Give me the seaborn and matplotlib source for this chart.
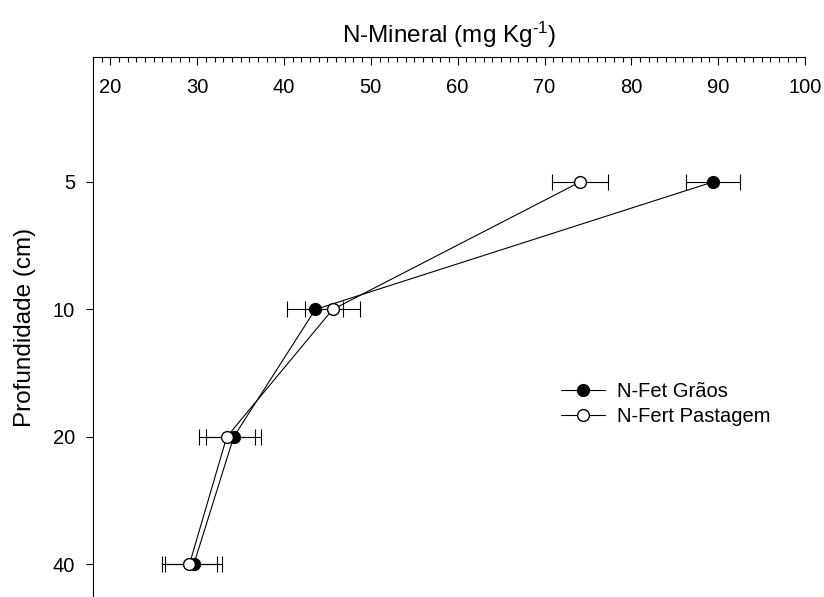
import numpy as np
import pandas as pd
import matplotlib
matplotlib.use("Agg")
import matplotlib.pyplot as plt
import seaborn as sns
from matplotlib.ticker import MultipleLocator

# Mineral N by soil depth for two fertilisation systems (mean ± error)
profundidade = ["5", "10", "20", "40"]
graos = [89.4, 43.6, 34.2, 29.6]
graos_erro = [3.1, 3.2, 3.2, 3.3]
pastagem = [74.1, 45.6, 33.4, 29.1]
pastagem_erro = [3.2, 3.2, 3.2, 3.2]
serie_graos = "N-Fet Grãos"
serie_pastagem = "N-Fert Pastagem"
xticks = [20, 30, 40, 50, 60, 70, 80, 90, 100]

sns.set_theme(style="white")
plt.rcParams["font.family"] = ["Liberation Sans", "DejaVu Sans"]
plt.rcParams["mathtext.fontset"] = "custom"
plt.rcParams["mathtext.rm"] = "Liberation Sans"
plt.rcParams["mathtext.it"] = "Liberation Sans:italic"
plt.rcParams["text.color"] = "black"
plt.rcParams["axes.labelcolor"] = "black"
plt.rcParams["xtick.color"] = "black"
plt.rcParams["ytick.color"] = "black"

pos = np.arange(len(profundidade))
df = pd.DataFrame({
    "valor": graos + pastagem,
    "erro": graos_erro + pastagem_erro,
    "pos": np.concatenate([pos, pos]),
    "serie": [serie_graos] * len(pos) + [serie_pastagem] * len(pos),
})

fig = plt.figure(figsize=(8.24, 5.97), dpi=100)
ax = fig.add_axes([93 / 824, 0.0, (805 - 93) / 824, 1 - 57 / 597])

estilos = {
    serie_graos: dict(markerfacecolor="black"),
    serie_pastagem: dict(markerfacecolor="white"),
}

for serie, sub in df.groupby("serie", sort=False):
    ax.errorbar(sub["valor"], sub["pos"], xerr=sub["erro"], fmt="none",
                ecolor="black", elinewidth=0.8, capsize=6, capthick=0.8,
                zorder=1)
    sns.lineplot(data=sub, x="valor", y="pos", orient="y", sort=False,
                 estimator=None, color="black", linewidth=0.8, marker="o",
                 markersize=8.5, markeredgecolor="black", markeredgewidth=1.0,
                 label=serie, ax=ax, zorder=2, **estilos[serie])

ax.set_xlim(18, 100)
ax.set_ylim(3.255, -0.98)

ax.xaxis.set_ticks_position("top")
ax.xaxis.set_label_position("top")
ax.set_xticks(xticks)
ax.set_xticklabels([str(v) for v in xticks])
ax.xaxis.set_minor_locator(MultipleLocator(1))
ax.tick_params(axis="x", which="both", direction="in", top=True, bottom=False,
               labeltop=True, labelbottom=False, width=0.8, pad=-29,
               labelsize=14.5)
ax.tick_params(axis="x", which="major", length=6)
ax.tick_params(axis="x", which="minor", length=3.6)

ax.set_yticks(pos)
ax.set_yticklabels(profundidade)
ax.tick_params(axis="y", which="major", direction="out", left=True,
               length=5, width=0.8, pad=8, labelsize=14.5)

ax.set_xlabel(r"N-Mineral (mg Kg$^{\text{-1}}$)", fontsize=17.5, labelpad=10)
ax.set_ylabel("Profundidade (cm)", fontsize=17.5, labelpad=12)

for lado in ("right", "bottom"):
    ax.spines[lado].set_visible(False)
for lado in ("left", "top"):
    ax.spines[lado].set_color("black")
    ax.spines[lado].set_linewidth(0.8)

ax.legend(loc="center left", bbox_to_anchor=(561 / 824, 1 - 404 / 597),
          bbox_transform=fig.transFigure, frameon=False, fontsize=14.5,
          borderpad=0, borderaxespad=0, handlelength=2.2, handletextpad=0.6,
          labelspacing=0.3)

fig.savefig("out.png", dpi=100)
